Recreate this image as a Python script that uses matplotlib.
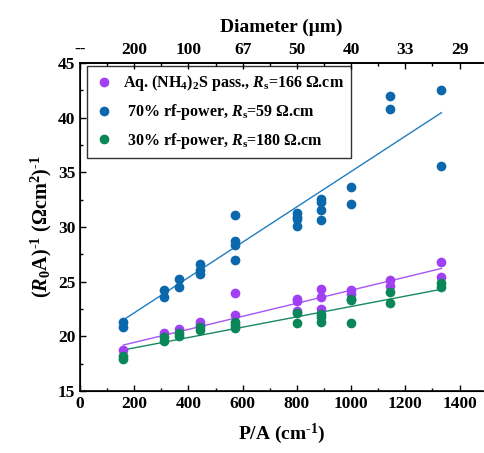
import matplotlib
matplotlib.use("Agg")
import matplotlib.pyplot as plt
from matplotlib.ticker import MultipleLocator

plt.rcParams['font.family'] = ['Liberation Serif', 'DejaVu Serif']
plt.rcParams['font.weight'] = 'bold'
plt.rcParams['mathtext.fontset'] = 'custom'
plt.rcParams['mathtext.rm'] = 'Liberation Serif:bold'
plt.rcParams['mathtext.bf'] = 'Liberation Serif:bold'
plt.rcParams['mathtext.it'] = 'Liberation Serif:bold:italic'

# P/A positions of the measured diodes (cm^-1)
pa_cols = [160, 308, 364, 444, 571, 800, 889, 1000, 1143, 1333]

# (NH4)2S passivated
purple_x = [160, 308, 364, 444, 444, 571, 571, 800, 800, 800,
            889, 889, 889, 1000, 1000, 1143, 1143, 1333, 1333]
purple_y = [18.7, 20.3, 20.65, 21.3, 21.0, 24.0, 21.95, 23.4, 23.25, 22.35,
            24.3, 23.55, 22.5, 24.25, 23.85, 25.15, 24.6, 26.8, 25.4]

# 70% rf-power
blue_x = [160, 160, 308, 308, 364, 364, 444, 444, 444, 571, 571, 571, 571,
          800, 800, 800, 800, 889, 889, 889, 889, 1000, 1000, 1143, 1143, 1333, 1333]
blue_y = [21.3, 20.85, 24.2, 23.55, 25.25, 24.55, 26.6, 26.05, 25.7, 31.05, 28.7, 28.35, 27.0,
          31.25, 30.95, 30.75, 30.1, 32.55, 32.3, 31.55, 30.65, 33.65, 32.1, 42.0, 40.8, 42.55, 35.55]

# 30% rf-power
green_x = [160, 160, 308, 308, 364, 364, 444, 444, 571, 571, 571,
           800, 800, 889, 889, 889, 1000, 1000, 1000, 1143, 1143, 1333, 1333]
green_y = [18.2, 17.95, 19.95, 19.6, 20.3, 20.0, 20.85, 20.6, 21.35, 21.05, 20.75,
           22.1, 21.2, 22.0, 21.75, 21.3, 23.4, 23.3, 21.25, 24.05, 23.05, 24.85, 24.5]

# linear fits (end points)
fit_x = [160, 1333]
purple_fit = [19.2, 26.2]
blue_fit = [21.5, 40.45]
green_fit = [18.75, 24.3]

top_ticks = [0, 200, 400, 600, 800, 1000, 1200, 1400]
top_labels = ['--', '200', '100', '67', '50', '40', '33', '29']

fig = plt.figure(figsize=(4.85, 4.53), dpi=100)
ax = fig.add_axes([0.165, 0.137, 0.83, 0.724])

c_purple = '#A040F2'
c_blue = '#0B68AC'
c_green = '#0A8659'

ax.plot(purple_x, purple_y, 'o', color=c_purple, ms=7, mec='none', zorder=3,
        label=r'Aq. (NH$_4$)$_2$S pass., $R_\mathrm{s}$=166 Ω.cm')
ax.plot(blue_x, blue_y, 'o', color=c_blue, ms=7, mec='none', zorder=3,
        label=r' 70% rf-power, $R_\mathrm{s}$=59 Ω.cm')
ax.plot(green_x, green_y, 'o', color=c_green, ms=7, mec='none', zorder=3,
        label=r' 30% rf-power, $R_\mathrm{s}$=180 Ω.cm')

ax.plot(fit_x, purple_fit, '-', color='#A855F7', lw=1.0, zorder=2)
ax.plot(fit_x, blue_fit, '-', color='#1F7DC0', lw=1.0, zorder=2)
ax.plot(fit_x, green_fit, '-', color='#178A60', lw=1.0, zorder=2)

ax.set_xlim(0, 1485)
ax.set_ylim(15, 45)
ax.xaxis.set_major_locator(MultipleLocator(200))
ax.xaxis.set_minor_locator(MultipleLocator(100))
ax.yaxis.set_major_locator(MultipleLocator(5))
ax.yaxis.set_minor_locator(MultipleLocator(2.5))
ax.tick_params(which='both', direction='in', labelsize=12.5, width=1.0)
ax.tick_params(which='major', length=4)
ax.tick_params(which='minor', length=2.5)
ax.tick_params(axis='y', which='both', right=False)
for s in ['left', 'bottom', 'top']:
    ax.spines[s].set_linewidth(1.2)
ax.spines['right'].set_visible(False)

ax.set_xlabel(r'P/A (cm$^{\text{-}1}$)', fontsize=14, fontweight='bold', labelpad=7)
ax.set_ylabel(r'$(R_\mathrm{0}\mathrm{A})^{\text{-}1}$ (Ωcm$^2$)$^{\text{-}1}$', fontsize=14.5,
              fontweight='bold', labelpad=3)

ax2 = ax.twiny()
ax2.set_xlim(ax.get_xlim())
ax2.set_xticks(top_ticks)
ax2.set_xticklabels(top_labels)
ax2.xaxis.set_minor_locator(MultipleLocator(100))
ax2.tick_params(which='both', direction='in', labelsize=12.5, width=1.0)
ax2.tick_params(which='major', length=4)
ax2.tick_params(which='minor', length=2.5)
ax2.spines['right'].set_visible(False)
ax2.spines['top'].set_linewidth(1.2)
ax2.set_xlabel(r'Diameter (μm)', fontsize=14, fontweight='bold', labelpad=7)

leg = ax.legend(loc='upper left', bbox_to_anchor=(0.017, 0.99), borderaxespad=0,
                frameon=True, fancybox=False, edgecolor='black', handletextpad=0.5,
                borderpad=0.45, labelspacing=0.55, handlelength=1.3,
                prop={'weight': 'bold', 'size': 11.5})
leg.get_frame().set_linewidth(1.0)

fig.savefig('out.png', dpi=100)
